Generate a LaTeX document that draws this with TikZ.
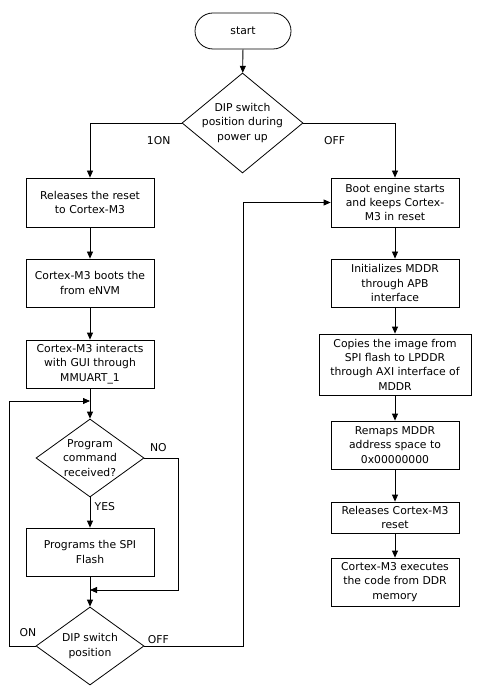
\documentclass[tikz,border=0pt]{standalone}
\usepackage{fontspec}
\setmainfont{DejaVu Sans}
\usetikzlibrary{shapes.geometric, arrows.meta}

\begin{document}
\begin{tikzpicture}[x=1pt, y=-1pt,
  every node/.style={font=\fontsize{10.8}{14.3}\selectfont},
  line/.style={draw, line width=0.8pt},
  arr/.style={line, -{Triangle[length=7pt, width=6pt]}},
  term/.style={draw, line width=0.8pt, rectangle, rounded corners=18pt, minimum width=96pt, minimum height=36pt},
  proc/.style={draw, line width=0.8pt, rectangle, align=center, minimum width=128pt, minimum height=48pt, inner sep=2pt},
  decision/.style={draw, line width=0.8pt, diamond, inner sep=0pt},
]

\useasboundingbox (0,0) rectangle (481,692);

\node[term] (start) at (243,31) {start};
\node[decision, minimum width=121pt, minimum height=100pt,
  label={[align=center]center:{DIP switch\\position during\\power up}}] (dip1) at (242.5,123) {};

% left column
\node[proc, minimum height=49pt] (rel) at (90,202.5) {Releases the reset\\to Cortex-M3};
\node[proc] (boot) at (90,283) {Cortex-M3 boots the\\from eNVM};
\node[proc] (gui) at (90,364) {Cortex-M3 interacts\\with GUI through\\MMUART\_1};
\node[decision, minimum width=108pt, minimum height=78pt,
  label={[align=center]center:{Program\\command\\received?}}] (cmd) at (90,458) {};
\node[proc] (prog) at (90,552) {Programs the SPI\\Flash};
\node[decision, minimum width=108pt, minimum height=78pt,
  label={[align=center]center:{DIP switch\\position}}] (dip2) at (90,646) {};

% right column
\node[proc, minimum height=49pt] (eng) at (395,202.5) {Boot engine starts\\and keeps Cortex-\\M3 in reset};
\node[proc] (init) at (395,283) {Initializes MDDR\\through APB\\interface};
\node[proc, minimum width=152pt, minimum height=61pt] (copy) at (395,364.5) {Copies the image from\\SPI flash to LPDDR\\through AXI interface of\\MDDR};
\node[proc] (remap) at (395,445) {Remaps MDDR\\address space to\\0x00000000};
\node[proc, minimum height=31pt] (relm) at (395,517.5) {Releases Cortex-M3\\reset};
\node[proc] (exec) at (395,582) {Cortex-M3 executes\\the code from DDR\\memory};

\coordinate (loopin) at (90,401);
\coordinate (join) at (90,590);

\draw[arr] (start) -- (dip1);
\draw[arr] (dip1.west) -| node[pos=0.125, below=10pt] {1ON} (rel.north);
\draw[arr] (dip1.east) -| node[pos=0.17, below=10pt] {OFF} (eng.north);

\draw[arr] (rel) -- (boot);
\draw[arr] (boot) -- (gui);
\draw[arr] (gui) -- (cmd);
\draw[arr] (cmd) -- node[pos=0.3, right=1pt] {YES} (prog);
\draw[arr] (cmd.east) -- node[pos=0.41, above=3pt] {NO} ++(34,0) |- (join);
\draw[arr] (prog) -- (dip2);
\draw[arr] (dip2.west) -- node[pos=0.3, above=6pt] {ON} ++(-26,0) |- (loopin);
\draw[arr] (dip2.east) -- node[pos=0.14, above=-1pt] {OFF} ++(99,0) |- (eng.west);

\draw[arr] (eng) -- (init);
\draw[arr] (init) -- (copy);
\draw[arr] (copy) -- (remap);
\draw[arr] (remap) -- (relm);
\draw[arr] (relm) -- (exec);

\end{tikzpicture}
\end{document}
